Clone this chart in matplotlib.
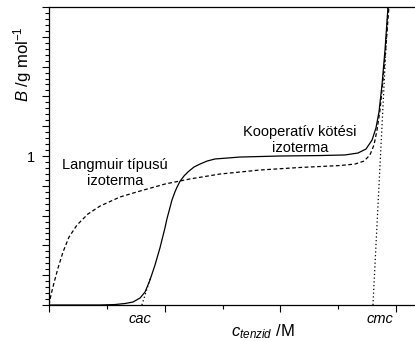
import matplotlib
matplotlib.use('Agg')
import matplotlib.pyplot as plt
import numpy as np

# kooperativ kotesi izoterma (folytonos)
coop_x = [0.0, 0.44, 0.57, 0.657, 0.726, 0.787, 0.83, 0.873, 0.916, 0.959, 1.003,
          1.02, 1.046, 1.063, 1.089, 1.106, 1.132, 1.167, 1.201, 1.253, 1.305,
          1.366, 1.435, 1.651, 1.997, 2.342, 2.558, 2.671, 2.74, 2.792, 2.826,
          2.852, 2.878, 2.904, 2.93]
coop_y = [0.0, 0.0, 0.003, 0.01, 0.02, 0.047, 0.087, 0.168, 0.268, 0.383, 0.52,
          0.58, 0.655, 0.705, 0.76, 0.79, 0.83, 0.866, 0.893, 0.926, 0.946,
          0.966, 0.98, 0.993, 1.0, 1.003, 1.007, 1.02, 1.047, 1.107, 1.188,
          1.295, 1.477, 1.711, 2.0]

# Langmuir tipusu izoterma (szaggatott)
lang_x = [0.0, 0.017, 0.043, 0.078, 0.121, 0.173, 0.242, 0.337, 0.441, 0.614,
          0.787, 1.003, 1.219, 1.478, 1.824, 2.169, 2.515, 2.645, 2.723, 2.774,
          2.809, 2.835, 2.861, 2.887, 2.913, 2.939]
lang_y = [0.0, 0.067, 0.148, 0.248, 0.356, 0.456, 0.537, 0.611, 0.664, 0.725,
          0.765, 0.812, 0.846, 0.879, 0.906, 0.923, 0.936, 0.946, 0.966, 1.007,
          1.074, 1.174, 1.309, 1.51, 1.745, 2.01]

# erintok (pontozott)
cac_tan_x = [0.803, 0.88]
cac_tan_y = [0.0, 0.19]
cmc_tan_x = [2.80, 2.93]
cmc_tan_y = [0.0, 2.0]

cac_pos = 0.79
cmc_pos = 2.86

plt.rcParams['font.family'] = ['Liberation Sans', 'DejaVu Sans']
plt.rcParams['mathtext.fontset'] = 'custom'
plt.rcParams['mathtext.rm'] = 'Liberation Sans'
plt.rcParams['mathtext.it'] = 'Liberation Sans:italic'

fig = plt.figure(figsize=(4.15, 3.41), dpi=100)
ax = fig.add_axes([49/415, 36/341, 366/415, 298/341])

ax.plot(coop_x, coop_y, color='black', lw=0.9)
ax.plot(lang_x, lang_y, color='black', lw=0.9, ls=(0, (3, 2)))
ax.plot(cac_tan_x, cac_tan_y, color='black', lw=0.9, ls=(0, (1, 2)))
ax.plot(cmc_tan_x, cmc_tan_y, color='black', lw=0.9, ls=(0, (1, 2)))

ax.set_xlim(0, 366/115.7)
ax.set_ylim(0, 2)

ax.spines['right'].set_visible(False)
for s in ['left', 'bottom', 'top']:
    ax.spines[s].set_linewidth(0.9)

ax.set_xticks([0, 1, 2, 3])
ax.set_xticks(np.arange(0.5, 3.2, 1.0), minor=True)
ax.set_xticklabels([])
yt = np.arange(0, 2.01, 0.2)
ax.set_yticks(yt)
ax.set_yticklabels(['1' if abs(v - 1) < 1e-6 else '' for v in yt], fontsize=10.5)
ax.set_yticks(np.arange(0, 2.01, 0.04), minor=True)
ax.tick_params(which='major', direction='out', length=5, width=0.8, pad=5)
ax.tick_params(which='minor', direction='out', length=3, width=0.8)

ax.text(0.57, 0.805, 'Langmuir típusú\nizoterma', ha='center', va='baseline',
        multialignment='center', fontsize=10.5, linespacing=1.2)
ax.text(2.17, 1.027, 'Kooperatív kötési\nizoterma', ha='center', va='baseline',
        multialignment='center', fontsize=10.5, linespacing=1.2)

ax.text(cac_pos, -0.06, 'cac', style='italic', ha='center', va='baseline',
        fontsize=10.5, transform=ax.get_xaxis_transform())
ax.text(cmc_pos, -0.06, 'cmc', style='italic', ha='center', va='baseline',
        fontsize=10.5, transform=ax.get_xaxis_transform())

fig.text(23/415, 1 - 64/341, r'$B$ /g mol$^{-1}$', rotation=90,
         ha='center', va='center', fontsize=12)
fig.text(263/415, 5/341, r'$c_{tenzid}$ /M', ha='center', va='baseline',
         fontsize=12)

fig.savefig('out.png', dpi=100)
